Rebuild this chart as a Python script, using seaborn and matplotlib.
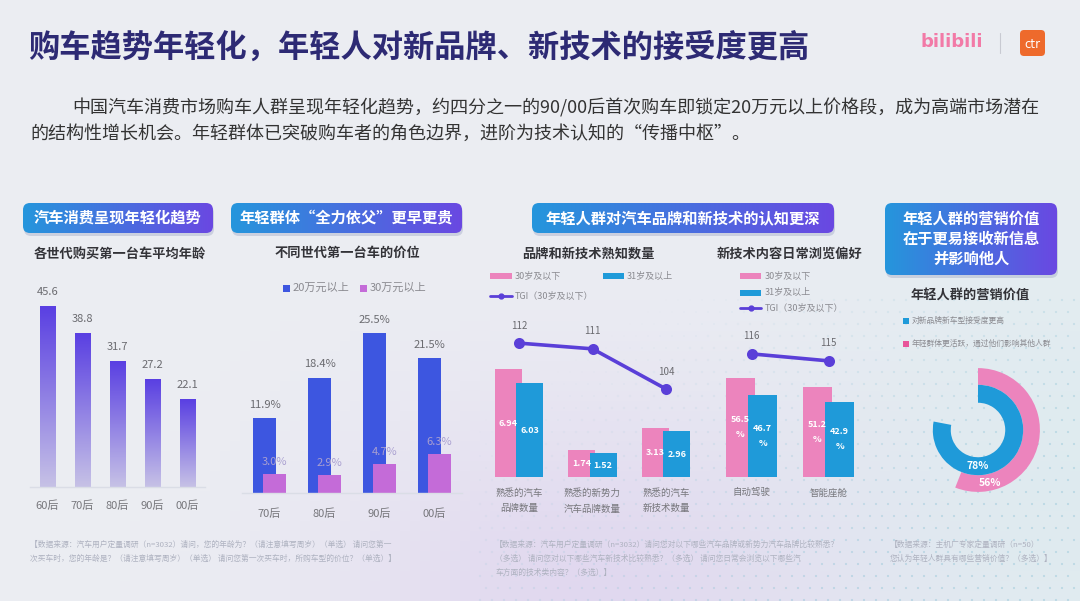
import numpy as np
import pandas as pd
import matplotlib.pyplot as plt
import seaborn as sns
from matplotlib.patches import FancyBboxPatch, Rectangle
from matplotlib.colors import LinearSegmentedColormap, to_rgb

W, H = 1080, 601

# ---- data ----
gen_age = ['60后', '70后', '80后', '90后', '00后']
first_car_age = [45.6, 38.8, 31.7, 27.2, 22.1]

gen_price = ['70后', '80后', '90后', '00后']
price_tiers = ['20万元以上', '30万元以上']
share_20w = [11.9, 18.4, 25.5, 21.5]
share_30w = [3.0, 2.9, 4.7, 6.3]

age_groups = ['30岁及以下', '31岁及以上']
brand_cats = ['熟悉的汽车\n品牌数量', '熟悉的新势力\n汽车品牌数量', '熟悉的汽车\n新技术数量']
brand_young = [6.94, 1.74, 3.13]
brand_old = [6.03, 1.52, 2.96]
brand_tgi = [112, 111, 104]

tech_cats = ['自动驾驶', '智能座舱']
tech_young = [56.5, 51.2]
tech_old = [46.7, 42.9]
tech_tgi = [116, 115]

value_items = ['对新品牌新车型接受度更高', '年轻群体更活跃，通过他们影响其他人群']
value_pct = [78, 56]

# colours
PINK = '#ec84bd'
BLUE = '#1f9ad9'
LINE = '#5a3fd8'
BLUE2 = '#3d56e0'
PURPLE2 = '#c46bd8'

sns.set_theme(style='white')
plt.rcParams['font.family'] = ['Noto Sans CJK SC', 'DejaVu Sans']

fig = plt.figure(figsize=(10.8, 6.01), dpi=100)

# full-figure canvas in pixel coordinates for the decoration
bg = fig.add_axes([0, 0, 1, 1])
bg.axis('off')

gy, gx = np.mgrid[0:1:60j, 0:1:108j]
base = np.array(to_rgb('#eceef3'))
lav = np.array(to_rgb('#e0d6ef'))
teal = np.array(to_rgb('#dcebef'))
w1 = 0.9 * np.exp(-(((gx - 0.55) / 0.25) ** 2 + ((gy - 1.0) / 0.35) ** 2))
w2 = 0.8 * np.exp(-(((gx - 1.0) / 0.25) ** 2 + ((gy - 0.8) / 0.5) ** 2))
img = base * (1 - w1 - w2)[..., None] + lav * w1[..., None] + teal * w2[..., None]
bg.imshow(np.clip(img, 0, 1), extent=[0, W, H, 0], aspect='auto', zorder=0)

# faint dot pattern
dx, dy = np.meshgrid(np.arange(480, 1080, 12), np.arange(300, 601, 12))
dx = dx + (dy // 12 % 2) * 6
fade = np.clip((dx - 480) / 600 + (dy - 300) / 400 - 0.3, 0, 1)
dot_rgba = np.zeros((dx.size, 4))
dot_rgba[:, :3] = to_rgb('#8fc3d6')
dot_rgba[:, 3] = 0.45 * fade.ravel()
bg.scatter(dx.ravel(), dy.ravel(), s=2.5, c=dot_rgba, linewidths=0, zorder=0.5)

hdr_cmap = LinearSegmentedColormap.from_list('hdr', ['#2596dc', '#6a48e2'])


def header(x0, y0, x1, y1, text):
    shadow = FancyBboxPatch((x0 + 1, y0 + 3), x1 - x0, y1 - y0,
                            boxstyle='round,pad=0,rounding_size=7',
                            fc='#6f7aa8', ec='none', alpha=0.25, zorder=1)
    bg.add_patch(shadow)
    box = FancyBboxPatch((x0, y0), x1 - x0, y1 - y0,
                         boxstyle='round,pad=0,rounding_size=7',
                         fc='none', ec='none', zorder=2)
    bg.add_patch(box)
    im = bg.imshow(np.linspace(0, 1, 256)[None, :], cmap=hdr_cmap,
                   extent=[x0, x1, y1, y0], aspect='auto', zorder=2)
    im.set_clip_path(box)
    bg.text((x0 + x1) / 2, (y0 + y1) / 2, text, ha='center', va='center',
            color='white', fontsize=11, fontweight='bold', linespacing=1.3,
            zorder=3)


def subtitle(x, y, text):
    bg.text(x, y, text, ha='center', va='center', fontsize=9.5,
            fontweight='bold', color='#333338', zorder=3)


# title, intro and logos
bg.text(28, 48, '购车趋势年轻化，年轻人对新品牌、新技术的接受度更高',
        fontsize=22.5, fontweight='bold', color='#2d2a74', va='center')
bg.text(72, 108, '中国汽车消费市场购车人群呈现年轻化趋势，约四分之一的90/00后首次购车即锁定20万元以上价格段，成为高端市场潜在',
        fontsize=13, color='#333', va='center')
bg.text(30, 134, '的结构性增长机会。年轻群体已突破购车者的角色边界，进阶为技术认知的“传播中枢”。',
        fontsize=13, color='#333', va='center')
bg.text(921, 42, 'bilibili', fontsize=13, fontweight='bold', color='#f27aa7',
        va='center', family='DejaVu Sans')
bg.plot([1000, 1000], [33, 53], color='#c8cad2', lw=0.8)
bg.add_patch(FancyBboxPatch((1020, 30), 25, 26, boxstyle='round,pad=0,rounding_size=4',
                            fc='#ee6a2c', ec='none'))
bg.text(1032.5, 44, 'ctr', fontsize=8.5, color='white', ha='center', va='center',
        family='DejaVu Sans')

header(23, 203, 213, 233, '汽车消费呈现年轻化趋势')
header(231, 203, 462, 233, '年轻群体“全力依父”更早更贵')
header(532, 203, 834, 233, '年轻人群对汽车品牌和新技术的认知更深')
header(885, 203, 1057, 275, '年轻人群的营销价值\n在于更易接收新信息\n并影响他人')

subtitle(120, 254, '各世代购买第一台车平均年龄')
subtitle(347, 253, '不同世代第一台车的价位')
subtitle(588, 254, '品牌和新技术熟知数量')
subtitle(790, 254, '新技术内容日常浏览偏好')
subtitle(970, 296, '年轻人群的营销价值')


# legends drawn on the canvas
def swatch(x, y, w, h, color):
    bg.add_patch(Rectangle((x, y - h / 2), w, h, fc=color, ec='none', zorder=3))


def small(x, y, text, fs=7):
    bg.text(x, y, text, fontsize=fs, color='#8a8a90', va='center', zorder=3)


swatch(283, 288, 7, 7, BLUE2); small(293, 288, price_tiers[0], 8)
swatch(360, 288, 7, 7, PURPLE2); small(370, 288, price_tiers[1], 8)

swatch(490, 276, 22, 6, PINK); small(515, 276, age_groups[0], 6.5)
swatch(603, 276, 21, 6, BLUE); small(627, 276, age_groups[1], 6.5)
bg.plot([490, 512], [296, 296], color=LINE, lw=2, zorder=3)
bg.plot([501], [296], 'o', color=LINE, ms=3.5, zorder=3)
small(515, 296, 'TGI（30岁及以下）', 6.5)

swatch(740, 276, 21, 6, PINK); small(765, 276, age_groups[0], 6.5)
swatch(740, 293, 21, 6, BLUE); small(765, 293, age_groups[1], 6.5)
bg.plot([740, 761], [308, 308], color=LINE, lw=2, zorder=3)
bg.plot([750.5], [308], 'o', color=LINE, ms=3.5, zorder=3)
small(765, 308, 'TGI（30岁及以下）', 6.5)

swatch(903, 321, 6, 6, BLUE); small(912, 321, value_items[0], 5.6)
swatch(903, 344, 6, 6, '#e8559a'); small(912, 344, value_items[1], 5.6)

# footnotes
foot = dict(fontsize=5.6, color='#aeb2c0', va='top', linespacing=1.9)
bg.text(30, 541, '【数据来源：汽车用户定量调研（n=3032）请问，您的年龄为？（请注意填写周岁）（单选） 请问您第一\n'
        '次买车时，您的年龄是？（请注意填写周岁）（单选） 请问您第一次买车时，所购车型的价位？（单选）】', **foot)
bg.text(495, 541, '【数据来源：汽车用户定量调研（n=3032）请问您对以下哪些汽车品牌或新势力汽车品牌比较熟悉？\n'
        '（多选） 请问您对以下哪些汽车新技术比较熟悉？（多选） 请问您日常会浏览以下哪些汽\n'
        '车方面的技术类内容？（多选）】', **foot)
bg.text(890, 541, '【数据来源：主机厂专家定量调研（n=50）\n您认为年轻人群具有哪些营销价值？（多选）】', **foot)

bg.set_xlim(0, W)
bg.set_ylim(H, 0)


def px_axes(x0, y0, x1, y1):
    ax = fig.add_axes([x0 / W, 1 - y1 / H, (x1 - x0) / W, (y1 - y0) / H])
    ax.patch.set_alpha(0)
    return ax


def clean(ax, pad, fs=8, baseline=False):
    ax.set_xlabel('')
    ax.set_ylabel('')
    ax.set_yticks([])
    ax.tick_params(axis='x', length=0, pad=pad, labelsize=fs, labelcolor='#77777c')
    for name, sp in ax.spines.items():
        sp.set_visible(baseline and name == 'bottom')
    if baseline:
        ax.spines['bottom'].set_color('#dadde6')
        ax.spines['bottom'].set_linewidth(1)


# ---- 1: average age of first car ----
ax1 = px_axes(30, 260, 205, 487)
sns.barplot(x=gen_age, y=first_car_age, ax=ax1, color='#5b44e0', width=0.43,
            saturation=1, linewidth=0)
bar_cmap = LinearSegmentedColormap.from_list('bar', ['#c6c1e6', '#5a40e2'])
for p in ax1.patches:
    x, w, h = p.get_x(), p.get_width(), p.get_height()
    ax1.imshow(np.linspace(0, 1, 100)[:, None], cmap=bar_cmap, origin='lower',
               extent=[x, x + w, 0, h], aspect='auto', zorder=2)
    p.set_facecolor((0, 0, 0, 0))
ax1.bar_label(ax1.containers[0], labels=[f'{v}' for v in first_car_age],
              padding=7, fontsize=8, color='#6b6b70')
ax1.set_xlim(-0.5, 4.5)
ax1.set_ylim(0, 57.5)
clean(ax1, 10, baseline=True)

# ---- 2: price of first car ----
ax2 = px_axes(242, 300, 462, 493)
price_df = pd.DataFrame({
    'gen': gen_price * 2,
    'share': share_20w + share_30w,
    'tier': [price_tiers[0]] * len(gen_price) + [price_tiers[1]] * len(gen_price),
})
sns.barplot(data=price_df, x='gen', y='share', hue='tier',
            palette=[BLUE2, PURPLE2], width=0.86, saturation=1, legend=False,
            linewidth=0, ax=ax2)
for cont, shift in zip(ax2.containers, [0.125, -0.125]):
    for p in cont:
        p.set_x(p.get_x() + shift)
ax2.bar_label(ax2.containers[0], labels=[f'{v}%' for v in share_20w],
              padding=6, fontsize=8, color='#6b6b70')
ax2.bar_label(ax2.containers[1], labels=[f'{v}%' for v in share_30w],
              padding=5, fontsize=8, color='#a99fd0')
ax2.set_xlim(-0.5, 3.5)
ax2.set_ylim(0, 30.8)
clean(ax2, 11, baseline=True)


# ---- 3: brand / tech awareness ----
def awareness(ax, cats, young, old, tgi, ylim_bar, ylim_tgi, labels):
    df = pd.DataFrame({
        'cat': cats * 2,
        'val': young + old,
        'age': [age_groups[0]] * len(cats) + [age_groups[1]] * len(cats),
    })
    sns.barplot(data=df, x='cat', y='val', hue='age', palette=[PINK, BLUE],
                width=0.74, saturation=1, legend=False, linewidth=0, ax=ax)
    for cont, shift in zip(ax.containers, [0.04, -0.04]):
        for p in cont:
            p.set_x(p.get_x() + shift)
    for cont, vals in zip(ax.containers, [young, old]):
        ax.bar_label(cont, labels=[labels(v) for v in vals], label_type='center',
                     fontsize=6.5, color='white', fontweight='bold', linespacing=1.9)
    ax.set_xlim(-0.5, len(cats) - 0.5)
    ax.set_ylim(*ylim_bar)
    clean(ax, 8, fs=6.8)
    for t in ax.get_xticklabels():
        t.set_linespacing(1.9)

    tw = ax.twinx()
    sns.pointplot(x=cats, y=tgi, ax=tw, color=LINE, errorbar=None,
                  markersize=6, linewidth=2.6)
    for i, v in enumerate(tgi):
        tw.annotate(str(v), (i, v), xytext=(0, 9), textcoords='offset points',
                    ha='center', va='bottom', fontsize=7, color='#6b6b70')
    tw.set_ylim(*ylim_tgi)
    tw.set_ylabel('')
    tw.set_yticks([])
    tw.patch.set_alpha(0)
    for sp in tw.spines.values():
        sp.set_visible(False)
    ax.set_xlim(-0.5, len(cats) - 0.5)


ax3 = px_axes(482, 300, 703, 477)
awareness(ax3, brand_cats, brand_young, brand_old, brand_tgi,
          (0, 11.4), (88.7, 119.5), lambda v: f'{v:.2f}')

ax4 = px_axes(713, 300, 867, 477)
awareness(ax4, tech_cats, tech_young, tech_old, tech_tgi,
          (0, 100.6), (98.4, 123.7), lambda v: f'{v}\n%')

# ---- 4: marketing value donut ----
ax5 = px_axes(913, 365, 1043, 495)
ax5.pie([value_pct[1], 100 - value_pct[1]], radius=1, startangle=90,
        counterclock=False, colors=[PINK, 'none'],
        wedgeprops=dict(width=0.27, edgecolor='none'))
ax5.pie([value_pct[0], 100 - value_pct[0]], radius=0.73, startangle=90,
        counterclock=False, colors=[BLUE, 'none'],
        wedgeprops=dict(width=0.29, edgecolor='none'))
ax5.text(0, -0.58, f'{value_pct[0]}%', ha='center', va='center', color='white',
         fontsize=7.5, fontweight='bold')
ax5.text(0.19, -0.86, f'{value_pct[1]}%', ha='center', va='center', color='white',
         fontsize=7.5, fontweight='bold')
ax5.set_xlim(-1.05, 1.05)
ax5.set_ylim(-1.05, 1.05)
ax5.axis('off')

fig.savefig('out.png', dpi=100)
